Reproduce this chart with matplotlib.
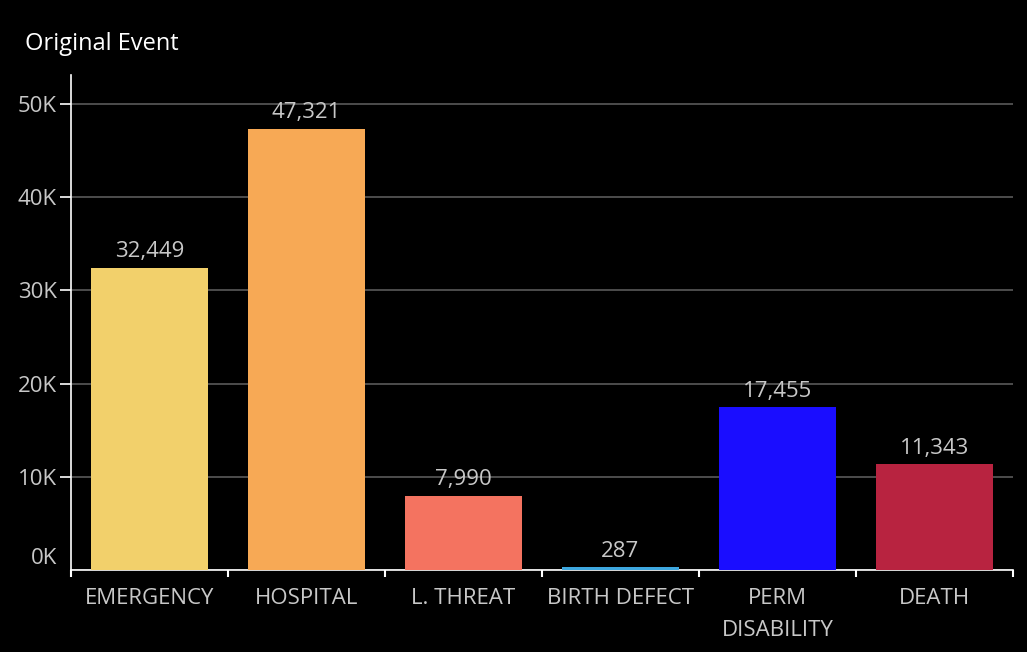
import matplotlib
matplotlib.use("Agg")
import matplotlib.pyplot as plt
import matplotlib.transforms as mtransforms
from matplotlib.ticker import FixedLocator, FuncFormatter

categories = ["EMERGENCY", "HOSPITAL", "L. THREAT", "BIRTH DEFECT", "PERM\nDISABILITY", "DEATH"]
values = [32449, 47321, 7990, 287, 17455, 11343]
colors = ["#f2d06b", "#f7a955", "#f47360", "#3ea8e0", "#1a0dff", "#b82340"]
yticks = [0, 10000, 20000, 30000, 40000, 50000]

plt.rcParams['font.family'] = ['Open Sans', 'DejaVu Sans']
fig = plt.figure(figsize=(10.27, 6.52), dpi=100, facecolor="black")
W, H = 1027, 652
ax = fig.add_axes([71 / W, 1 - 570 / H, (1013 - 71) / W, (570 - 75) / H], facecolor="black")

x = list(range(len(categories)))
ax.bar(x, values, width=0.75, color=colors, zorder=3)
ax.set_xlim(-0.5, len(categories) - 0.5)
ax.set_ylim(0, 53100)

for xi, v in zip(x, values):
    ax.annotate(f"{v:,}", (xi, v), xytext=(0, 4), textcoords="offset points",
                ha="center", va="bottom", color="#c8c8c8", fontsize=16)

ax.set_yticks(yticks)
ax.yaxis.set_major_formatter(FuncFormatter(lambda v, p: f"{int(v/1000)}K"))
ax.grid(axis="y", color="#5a5a5a", linewidth=1.2, zorder=0)
ax.tick_params(axis="y", colors="#c8c8c8", labelsize=16, length=8, width=1.2, pad=2)
ax.tick_params(axis="y", which="major", color="white")

ax.set_xticks(x)
ax.set_xticklabels(categories, color="#c8c8c8", fontsize=16, linespacing=1.7)
ax.tick_params(axis="x", which="major", length=0, pad=13)
ax.xaxis.set_minor_locator(FixedLocator([i - 0.5 for i in range(len(categories) + 1)]))
ax.tick_params(axis="x", which="minor", length=5, width=1.5, color="white")

for s in ["top", "right"]:
    ax.spines[s].set_visible(False)
for s in ["left", "bottom"]:
    ax.spines[s].set_color("white")
    ax.spines[s].set_linewidth(1.2)

fig.canvas.draw()
ylabels = ax.get_yticklabels()
zero_lbl = ylabels[0]
zero_lbl.set_transform(zero_lbl.get_transform() +
                       mtransforms.ScaledTranslation(0, 14 / 100, fig.dpi_scale_trans))
ax.yaxis.get_major_ticks()[0].tick1line.set_visible(False)

fig.text(25 / W, 1 - 44 / H, "Original Event", color="white", fontsize=17, va="center", ha="left")

fig.savefig("out.png", dpi=100, facecolor="black")
